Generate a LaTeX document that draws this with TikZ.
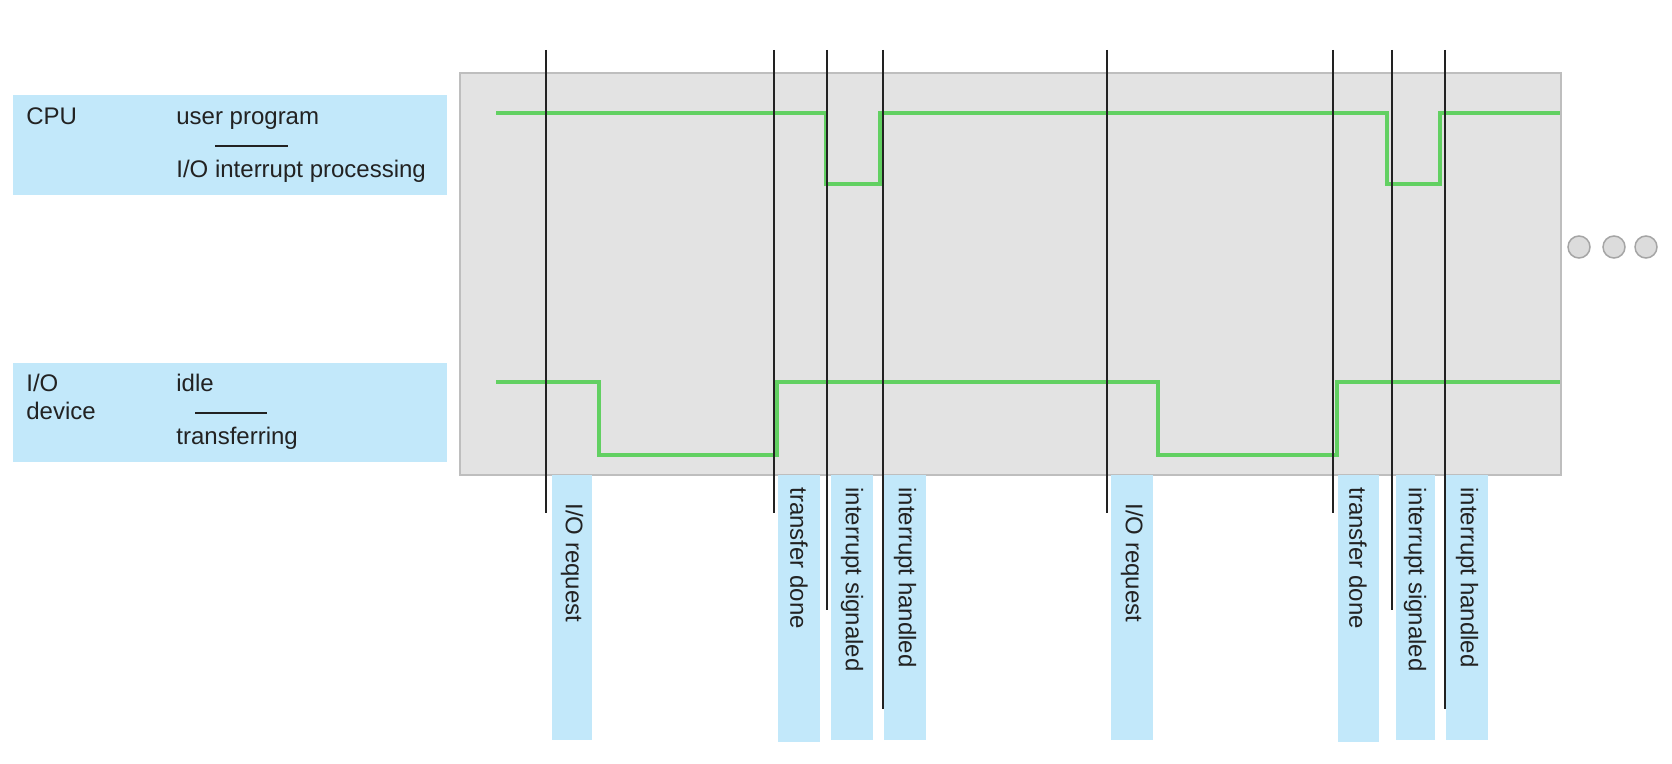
\documentclass[tikz,border=0pt]{standalone}
\usepackage{fontspec}
\setmainfont{Liberation Sans}
\usepackage{amsmath}

\newcommand{\lblfont}{\fontsize{12}{14}\selectfont}

\tikzset{
  lane/.style={draw opacity=0, fill={rgb, 255:red, 194; green, 232; blue, 250 }, fill opacity=1},
  panel/.style={color={rgb, 255:red, 190; green, 190; blue, 190 }, line width=0.9pt, fill={rgb, 255:red, 227; green, 227; blue, 227 }},
  evt/.style={color={rgb, 255:red, 34; green, 34; blue, 34 }, line width=1pt},
  trace/.style={color={rgb, 255:red, 98; green, 208; blue, 98 }, line width=2pt},
  tick/.style={color={rgb, 255:red, 34; green, 34; blue, 34 }, line width=0.8pt},
  dotc/.style={color={rgb, 255:red, 165; green, 165; blue, 165 }, line width=0.75pt, fill={rgb, 255:red, 220; green, 220; blue, 220 }},
  txt/.style={inner sep=0pt, font=\lblfont, text={rgb, 255:red, 34; green, 34; blue, 34 }},
  vtxt/.style={txt, anchor=west, rotate=-90}
}

\begin{document}
\begin{tikzpicture}[x=0.5pt,y=0.5pt,yscale=-1,xscale=1]
\useasboundingbox (0,0) rectangle (1672,764);

%Shape: Rectangle
\draw [panel] (460,73) -- (1561,73) -- (1561,475) -- (460,475) -- cycle ;
%Shape: Rectangle
\draw [lane] (13,95) -- (447,95) -- (447,195) -- (13,195) -- cycle ;
%Shape: Rectangle
\draw [lane] (13,363) -- (447,363) -- (447,462) -- (13,462) -- cycle ;

%Shape: Rectangle
\draw [lane] (552,475) -- (592,475) -- (592,740) -- (552,740) -- cycle ;
%Shape: Rectangle
\draw [lane] (778,475) -- (820,475) -- (820,742) -- (778,742) -- cycle ;
%Shape: Rectangle
\draw [lane] (831,475) -- (873,475) -- (873,740) -- (831,740) -- cycle ;
%Shape: Rectangle
\draw [lane] (884,475) -- (926,475) -- (926,740) -- (884,740) -- cycle ;
%Shape: Rectangle
\draw [lane] (1111,475) -- (1153,475) -- (1153,740) -- (1111,740) -- cycle ;
%Shape: Rectangle
\draw [lane] (1338,475) -- (1379,475) -- (1379,742) -- (1338,742) -- cycle ;
%Shape: Rectangle
\draw [lane] (1396,475) -- (1435,475) -- (1435,740) -- (1396,740) -- cycle ;
%Shape: Rectangle
\draw [lane] (1446,475) -- (1488,475) -- (1488,740) -- (1446,740) -- cycle ;

%Straight Lines
\draw [trace] (496,113) -- (826,113) -- (826,184) -- (880,184) -- (880,113) -- (1387,113) -- (1387,184) -- (1440,184) -- (1440,113) -- (1560,113) ;
%Straight Lines
\draw [trace] (496,382) -- (599,382) -- (599,455) -- (777,455) -- (777,382) -- (1158,382) -- (1158,455) -- (1337,455) -- (1337,382) -- (1560,382) ;

% event marks
\coordinate (reqAtop) at (546,50);  \coordinate (reqAend) at (546,513);
\coordinate (doneAtop) at (774,50); \coordinate (doneAend) at (774,513);
\coordinate (sigAtop) at (827,50);  \coordinate (sigAend) at (827,610);
\coordinate (hndAtop) at (883,50);  \coordinate (hndAend) at (883,709);
\coordinate (reqBtop) at (1107,50); \coordinate (reqBend) at (1107,513);
\coordinate (doneBtop) at (1333,50); \coordinate (doneBend) at (1333,513);
\coordinate (sigBtop) at (1392,50); \coordinate (sigBend) at (1392,610);
\coordinate (hndBtop) at (1445,50); \coordinate (hndBend) at (1445,709);
%Straight Lines
\draw [evt] (reqAtop) -- (reqAend) ;
\draw [evt] (doneAtop) -- (doneAend) ;
\draw [evt] (sigAtop) -- (sigAend) ;
\draw [evt] (hndAtop) -- (hndAend) ;
\draw [evt] (reqBtop) -- (reqBend) ;
\draw [evt] (doneBtop) -- (doneBend) ;
\draw [evt] (sigBtop) -- (sigBend) ;
\draw [evt] (hndBtop) -- (hndBend) ;

%Straight Lines
\draw [tick] (215,146) -- (288,146) ;
%Straight Lines
\draw [tick] (195,413) -- (267,413) ;

%Shape: Circle
\draw [dotc] (1579,247) circle (11) ;
\draw [dotc] (1614,247) circle (11) ;
\draw [dotc] (1646,247) circle (11) ;

% Text Node
\draw (26,125) node (cpu) [txt, anchor=base west] {CPU};
% Text Node
\draw (176,125) node (usr) [txt, anchor=base west] {user program};
% Text Node
\draw (176,178) node (irq) [txt, anchor=base west] {I/O interrupt processing};
% Text Node
\draw (26,392) node (dev) [txt, anchor=base west] {I/O};
% Text Node
\draw (26,420) node (devb) [txt, anchor=base west] {device};
% Text Node
\draw (176,392) node (idle) [txt, anchor=base west] {idle};
% Text Node
\draw (176,445) node (xfer) [txt, anchor=base west] {transferring};

% Text Node
\draw (572,503) node (reqAlbl) [vtxt] {I/O request};
% Text Node
\draw (799,487) node (doneAlbl) [vtxt] {transfer done};
% Text Node
\draw (852,487) node (sigAlbl) [vtxt] {interrupt signaled};
% Text Node
\draw (905,487) node (hndAlbl) [vtxt] {interrupt handled};
% Text Node
\draw (1132,503) node (reqBlbl) [vtxt] {I/O request};
% Text Node
\draw (1358,487) node (doneBlbl) [vtxt] {transfer done};
% Text Node
\draw (1415,487) node (sigBlbl) [vtxt] {interrupt signaled};
% Text Node
\draw (1467,487) node (hndBlbl) [vtxt] {interrupt handled};

\end{tikzpicture}
\end{document}
